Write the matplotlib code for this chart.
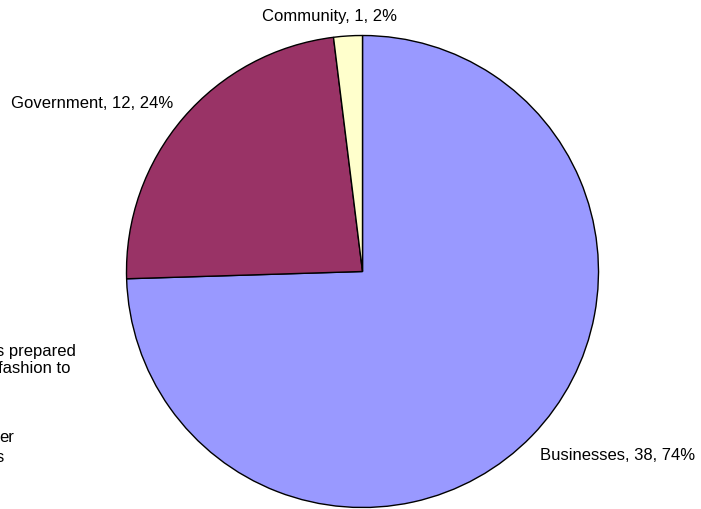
import matplotlib
matplotlib.use("Agg")
from matplotlib import pyplot as plt

plt.rcParams['font.family'] = ['Liberation Sans', 'DejaVu Sans']

categories = ["Businesses", "Government", "Community"]
counts = [38, 12, 1]
percents = [74, 24, 2]
colors = ["#9999FF", "#993366", "#FFFFCC"]

fig = plt.figure(figsize=(7.01, 5.10), dpi=100)
W, H = 701, 510
# pie centre ~ (362.5, 272.5) px from top-left, radius ~236 px
r = 236
cx, cy = 362.5, 272.5
ax = fig.add_axes([(cx - r) / W, (H - cy - r) / H, 2 * r / W, 2 * r / H])
ax.pie(counts, colors=colors, startangle=90, counterclock=False,
       wedgeprops=dict(edgecolor="black", linewidth=1.0))
ax.set_xlim(-1.0, 1.0)
ax.set_ylim(-1.0, 1.0)
ax.set_aspect("equal")
ax.axis("off")

def px(x, y):
    return x / W, 1 - y / H

fs = 12
labels = [f"{c}, {n}, {p}%" for c, n, p in zip(categories, counts, percents)]
fig.text(*px(618, 455), labels[0], ha="center", va="center", fontsize=fs)
fig.text(*px(92.5, 104), labels[1], ha="center", va="center", fontsize=fs)
fig.text(*px(330, 16), labels[2], ha="center", va="center", fontsize=fs)

# text box cut off at the left edge in the original
fig.text(*px(-4, 352), "s prepared", ha="left", va="center", fontsize=fs)
fig.text(*px(-2, 369), "fashion to", ha="left", va="center", fontsize=fs)
fig.text(*px(-1, 438), "er", ha="left", va="center", fontsize=fs)
fig.text(*px(-4, 458), "s", ha="left", va="center", fontsize=fs)

fig.savefig("out.png", dpi=100)
